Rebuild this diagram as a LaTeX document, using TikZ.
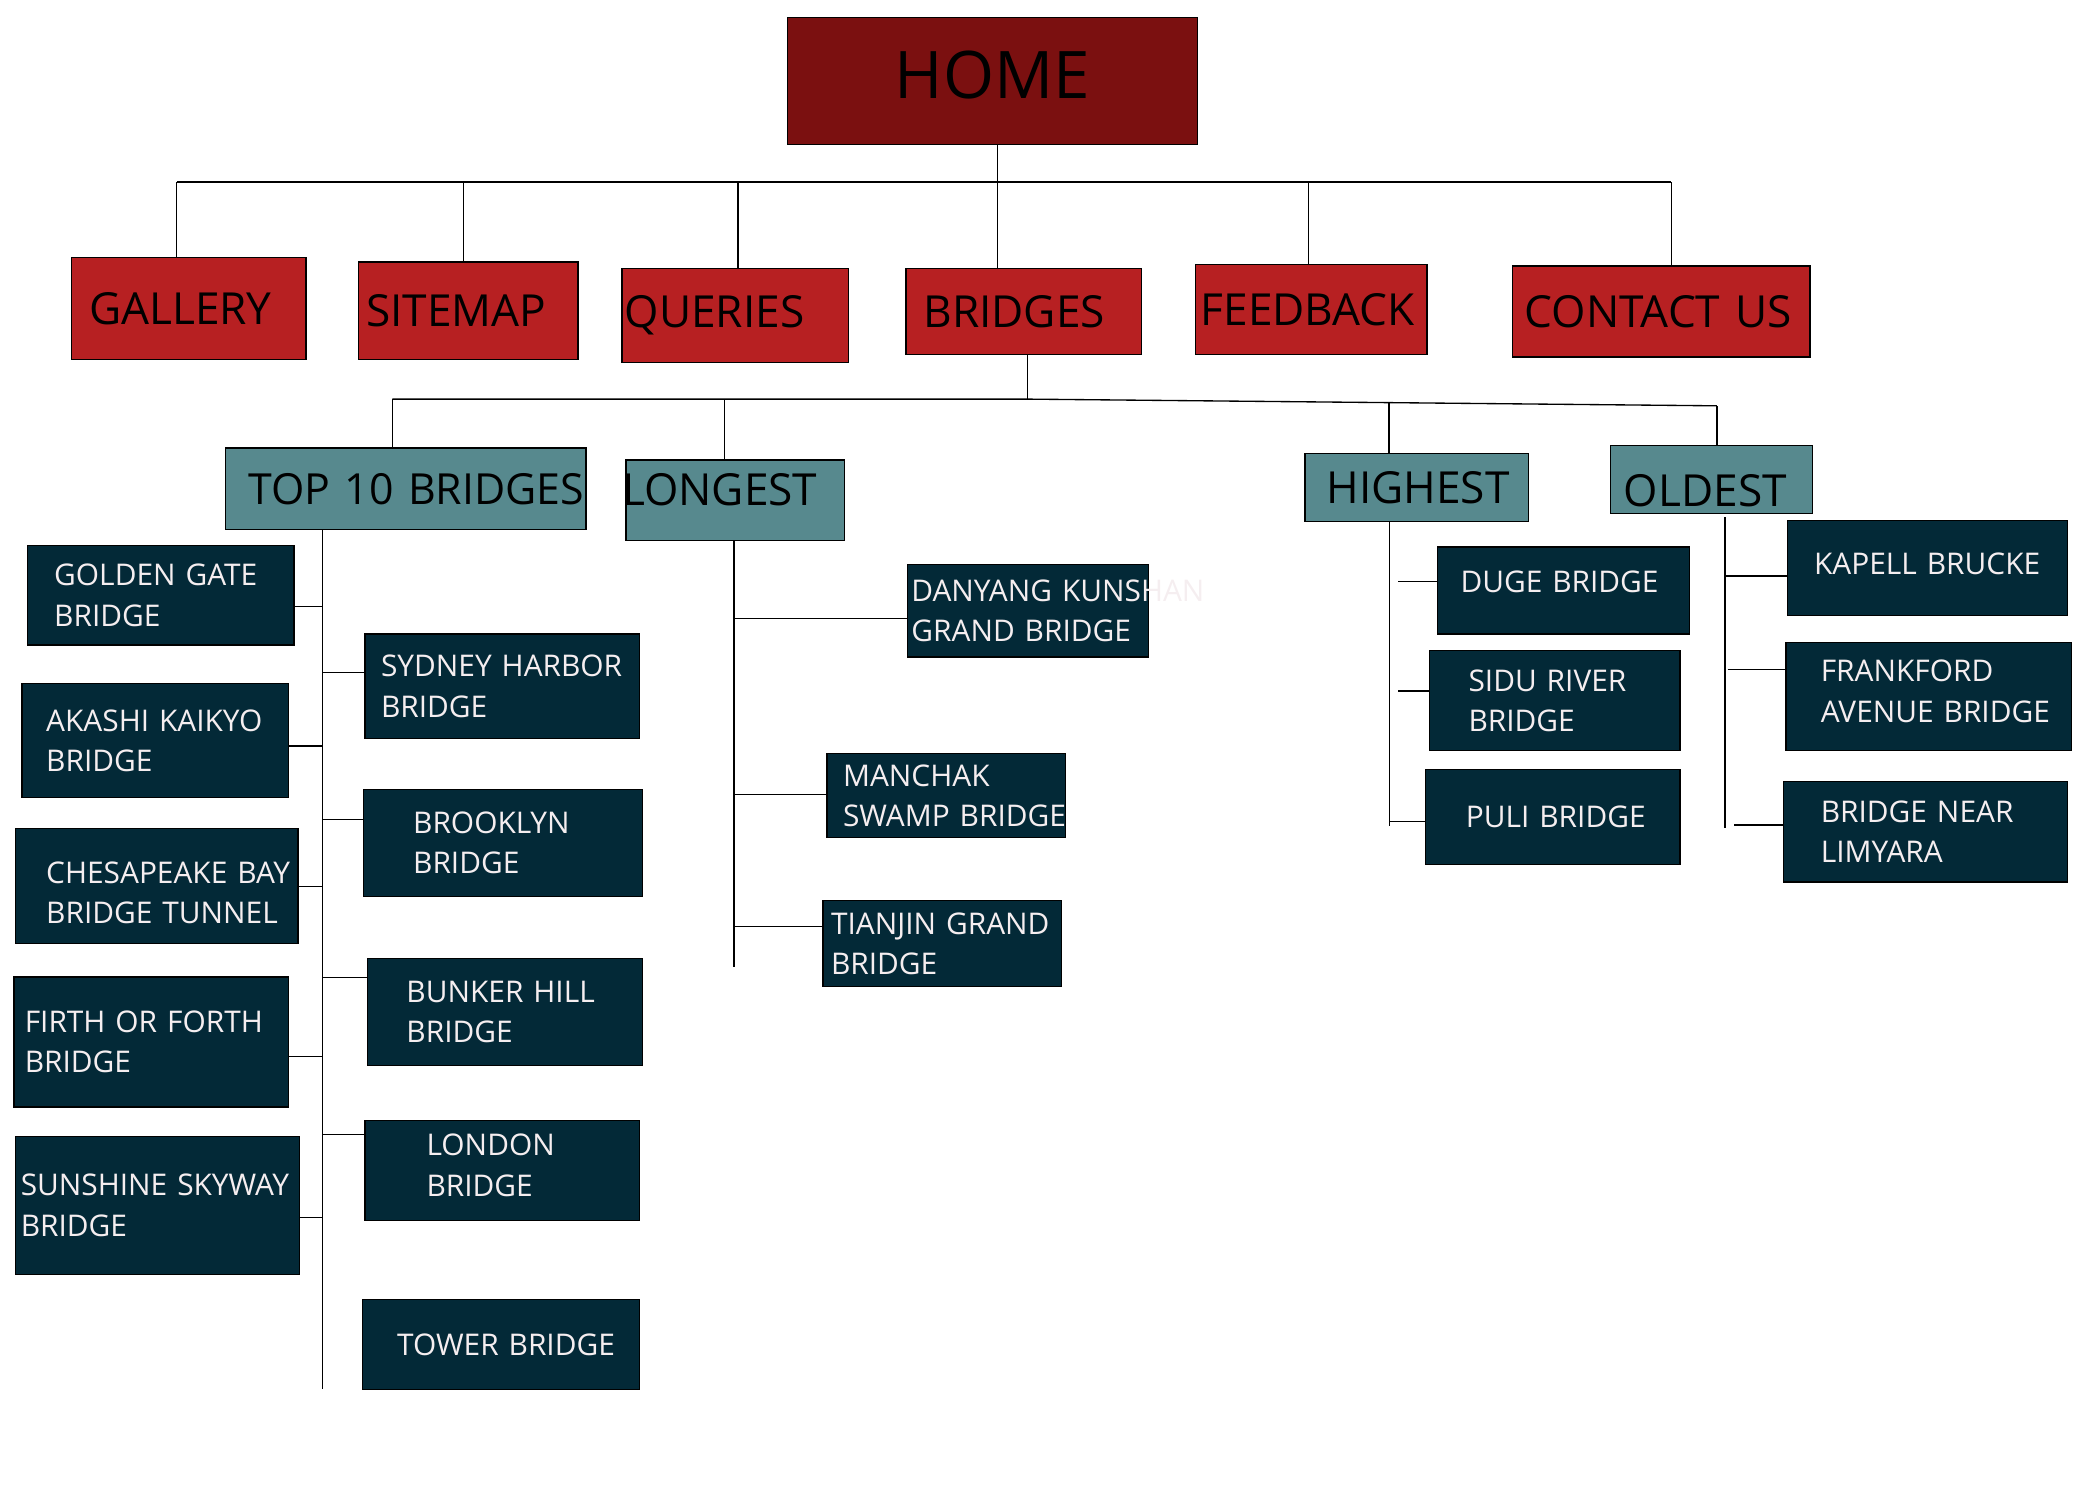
\documentclass[tikz,border=0pt]{standalone}
\usepackage{fontspec}
\setmainfont{Open Sans}
\usepackage{tikz}
\usepackage{xcolor}
\definecolor{homered}{RGB}{123,16,16}
\definecolor{pagered}{RGB}{183,32,34}
\definecolor{groupteal}{RGB}{87,137,142}
\definecolor{bridgenavy}{RGB}{3,41,55}
\definecolor{boxwhite}{RGB}{245,238,240}
\hyphenpenalty=10000

\begin{document}
\begin{tikzpicture}[x=1pt,y=-1pt,
  homebox/.style={draw=black,fill=homered,line width=1pt,font=\fontsize{49}{59}\selectfont},
  pagebox/.style={draw=black,fill=pagered,line width=1pt,anchor=north west,align=left,inner ysep=0pt,font=\fontsize{33}{40}\selectfont},
  groupbox/.style={draw=black,fill=groupteal,line width=1pt,anchor=north west,align=left,inner ysep=0pt,font=\fontsize{33}{40}\selectfont},
  bridgebox/.style={draw=black,fill=bridgenavy,text=boxwhite,line width=1pt,anchor=north west,align=left,inner ysep=0pt,font=\fontsize{22.3}{30}\selectfont},
  link/.style={line width=1pt}]
\useasboundingbox (0,0) rectangle (1568,1120);

\node[homebox,minimum width=306pt,minimum height=95pt,text depth=10pt] (home) at (741,60.5) {HOME};

\node[pagebox,inner xsep=13pt,text width=149pt,minimum height=76pt] (gallery) at (53,192) {GALLERY};
\node[pagebox,inner xsep=6pt,text width=152pt,minimum height=73pt] (sitemap) at (267,195) {SITEMAP};
\node[pagebox,inner xsep=2pt,text width=165pt,minimum height=70pt] (queries) at (464,200) {QUERIES};
\node[pagebox,inner xsep=13pt,text width=150pt,minimum height=64pt] (bridges) at (676,200) {BRIDGES};
\node[pagebox,inner xsep=4pt,text width=165pt,minimum height=67pt] (feedback) at (892,197) {FEEDBACK};
\node[pagebox,inner xsep=9pt,text width=204pt,minimum height=68pt] (contact) at (1129,198) {CONTACT~US};

\node[groupbox,inner xsep=17pt,text width=235pt,minimum height=61pt,font=\fontsize{32}{40}\selectfont] (top10) at (168,334) {TOP~10~BRIDGES};
\node[groupbox,inner xsep=-3pt,text width=169pt,minimum height=60pt,text depth=16pt] (longest) at (467,343) {LONGEST};
\node[groupbox,inner xsep=16pt,text width=135pt,minimum height=51pt] (highest) at (974,338) {HIGHEST};
\node[groupbox,inner xsep=10pt,text width=131pt,minimum height=51pt,text height=40pt] (oldest) at (1202,332) {OLDEST};

\node[bridgebox,inner xsep=20pt,text width=159pt,minimum height=74pt] (golden) at (20,407) {GOLDEN~GATE\\BRIDGE};
\node[bridgebox,inner xsep=18pt,text width=163pt,minimum height=85pt] (akashi) at (16,510) {AKASHI~KAIKYO\\BRIDGE};
\node[bridgebox,inner xsep=23pt,text width=165pt,minimum height=86pt,text depth=20pt] (chesapeake) at (11,618) {CHESAPEAKE~BAY\\BRIDGE~TUNNEL};
\node[bridgebox,inner xsep=8pt,text width=189pt,minimum height=97pt] (firth) at (10,729) {FIRTH~OR~FORTH\\BRIDGE};
\node[bridgebox,inner xsep=4pt,text width=204pt,minimum height=103pt] (sunshine) at (11,848) {SUNSHINE~SKYWAY\\BRIDGE};
\node[bridgebox,inner xsep=12pt,text width=181pt,minimum height=78pt] (sydney) at (272,473) {SYDNEY~HARBOR\\BRIDGE};
\node[bridgebox,inner xsep=37pt,text width=134pt,minimum height=80pt] (brooklyn) at (271,589) {BROOKLYN\\BRIDGE};
\node[bridgebox,inner xsep=29pt,text width=147pt,minimum height=80pt] (bunker) at (274,715) {BUNKER~HILL\\BRIDGE};
\node[bridgebox,inner xsep=46pt,text width=113pt,minimum height=75pt,text depth=38pt] (london) at (272,836) {LONDON\\BRIDGE};
\node[bridgebox,inner xsep=26pt,text width=155pt,minimum height=67pt] (tower) at (270,970) {TOWER~BRIDGE};

\node[bridgebox,inner xsep=3pt,text width=174pt,minimum height=69pt] (danyang) at (677,421) {DANYANG~KUNSHAN\\GRAND~BRIDGE};
\node[bridgebox,inner xsep=12pt,text width=154pt,minimum height=63pt] (manchak) at (617,562) {MANCHAK\\SWAMP~BRIDGE};
\node[bridgebox,inner xsep=6pt,text width=166pt,minimum height=64pt] (tianjin) at (614,672) {TIANJIN~GRAND\\BRIDGE};

\node[bridgebox,inner xsep=17pt,text width=154pt,minimum height=65pt,text depth=14pt] (duge) at (1073,408) {DUGE~BRIDGE};
\node[bridgebox,inner xsep=29pt,text width=129pt,minimum height=75pt] (sidu) at (1067,485) {SIDU~RIVER\\BRIDGE};
\node[bridgebox,inner xsep=30pt,text width=130pt,minimum height=71pt] (puli) at (1064,574) {PULI~BRIDGE};

\node[bridgebox,inner xsep=20pt,text width=169pt,minimum height=71pt,text depth=6pt] (kapell) at (1334,388) {KAPELL~BRUCKE};
\node[bridgebox,inner xsep=26pt,text width=161pt,minimum height=81pt,text depth=38pt] (frankford) at (1333,479) {FRANKFORD\\AVENUE~BRIDGE};
\node[bridgebox,inner xsep=28pt,text width=156pt,minimum height=75pt] (limyara) at (1331,583) {BRIDGE~NEAR\\LIMYARA};

\coordinate (busW) at (132,136);
\coordinate (busE) at (1248,136);
\coordinate (tapsite) at (346,136);
\coordinate (tapquer) at (551,136);
\coordinate (trunk) at (745,136);
\coordinate (tapfeed) at (977,136);
\draw[link] (busW) -- (busE);
\draw[link] (busW) -- (busW |- gallery.north);
\draw[link] (tapsite) -- (tapsite |- sitemap.north);
\draw[link] (tapquer) -- (tapquer |- queries.north);
\draw[link] (trunk |- home.south) -- (trunk |- bridges.north);
\draw[link] (tapfeed) -- (tapfeed |- feedback.north);
\draw[link] (busE) -- (busE |- contact.north);

\coordinate (bus2W) at (293,298);
\coordinate (bus2M) at (767,298);
\coordinate (bus2E) at (1282,303);
\coordinate (taplong) at (541,298);
\coordinate (taphigh) at (1037,300.6);
\draw[link] (bus2M |- bridges.south) -- (bus2M);
\draw[link] (bus2W) -- (bus2M) -- (bus2E);
\draw[link] (bus2W) -- (bus2W |- top10.north);
\draw[link] (taplong) -- (taplong |- longest.north);
\draw[link] (taphigh) -- (taphigh |- highest.north);
\draw[link] (bus2E) -- (bus2E |- oldest.north);

\coordinate (spine10) at (241,1037);
\coordinate (t10a) at (241,453);
\coordinate (t10b) at (241,502);
\coordinate (t10c) at (241,557);
\coordinate (t10d) at (241,612);
\coordinate (t10e) at (241,662);
\coordinate (t10f) at (241,730);
\coordinate (t10g) at (241,789);
\coordinate (t10h) at (241,847);
\coordinate (t10i) at (241,909);
\draw[link] (spine10 |- top10.south) -- (spine10);
\draw[link] (t10a) -- (t10a -| golden.east);
\draw[link] (t10b) -- (t10b -| sydney.west);
\draw[link] (t10c) -- (t10c -| akashi.east);
\draw[link] (t10d) -- (t10d -| brooklyn.west);
\draw[link] (t10e) -- (t10e -| chesapeake.east);
\draw[link] (t10f) -- (t10f -| bunker.west);
\draw[link] (t10g) -- (t10g -| firth.east);
\draw[link] (t10h) -- (t10h -| london.west);
\draw[link] (t10i) -- (t10i -| sunshine.east);

\coordinate (spinelong) at (548,722);
\coordinate (tla) at (548,462);
\coordinate (tlb) at (548,593);
\coordinate (tlc) at (548,692);
\draw[link] (spinelong |- longest.south) -- (spinelong);
\draw[link] (tla) -- (tla -| danyang.west);
\draw[link] (tlb) -- (tlb -| manchak.west);
\draw[link] (tlc) -- (tlc -| tianjin.west);

\coordinate (spinehigh) at (1037.5,617);
\coordinate (tha) at (1044,434);
\coordinate (thb) at (1044,516);
\coordinate (thc) at (1037.5,613.5);
\draw[link] (spinehigh |- highest.south) -- (spinehigh);
\draw[link] (tha) -- (tha -| duge.west);
\draw[link] (thb) -- (thb -| sidu.west);
\draw[link] (thc) -- (thc -| puli.west);

\coordinate (spineold) at (1288,618);
\coordinate (toa) at (1288,430);
\coordinate (tob) at (1290,500);
\coordinate (toc) at (1295,616);
\draw[link] (spineold) -- (1288,386);
\draw[link] (toa) -- (toa -| kapell.west);
\draw[link] (tob) -- (tob -| frankford.west);
\draw[link] (toc) -- (toc -| limyara.west);
\end{tikzpicture}
\end{document}
